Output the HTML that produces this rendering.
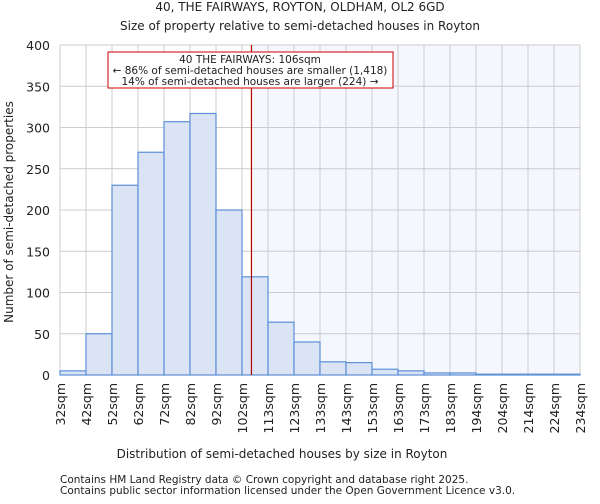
<!DOCTYPE html>
<html><head><meta charset="utf-8"><style>
body{margin:0;background:#fff;font-family:"DejaVu Sans","Liberation Sans",sans-serif;}
svg text{font-family:"DejaVu Sans","Liberation Sans",sans-serif;fill:#222;}
</style></head><body>
<svg id="c" width="600" height="500" xmlns="http://www.w3.org/2000/svg">
<text x="300" y="11" font-size="12" text-anchor="middle">40, THE FAIRWAYS, ROYTON, OLDHAM, OL2 6GD</text>
<text x="300" y="30" font-size="12" text-anchor="middle">Size of property relative to semi-detached houses in Royton</text>
<text x="282" y="458" font-size="12" text-anchor="middle">Distribution of semi-detached houses by size in Royton</text>
<text transform="translate(13,212) rotate(-90)" font-size="12" text-anchor="middle">Number of semi-detached properties</text>
<text x="60" y="483" font-size="10.5">Contains HM Land Registry data © Crown copyright and database right 2025.</text>
<text x="60" y="494" font-size="10.5">Contains public sector information licensed under the Open Government Licence v3.0.</text>
<g id="plot"></g>
</svg>
<script>
const xLabels=["32sqm","42sqm","52sqm","62sqm","72sqm","82sqm","92sqm","102sqm","113sqm","123sqm","133sqm","143sqm","153sqm","163sqm","173sqm","183sqm","194sqm","204sqm","214sqm","224sqm","234sqm"];
const counts=[5,50,230,270,307,317,200,119,64,40,16,15,7,5,2.5,2.5,1,1,1,1];
const yTicks=[0,50,100,150,200,250,300,350,400];
const markerValue=106;
const binEdges=[32,42,52,62,72,82,92,102,113,123,133,143,153,163,173,183,194,204,214,224,234];
const X0=60,X1=580,Y0=375,Y1=45,YMAX=400;
const NS="http://www.w3.org/2000/svg";
const g=document.getElementById('plot');
const bw=(X1-X0)/counts.length;
function xs(i){return X0+i*bw;}
function ys(v){return Y0-(v/YMAX)*(Y0-Y1);}
function xv(v){let i=0;while(i<binEdges.length-2&&v>binEdges[i+1])i++;return xs(i)+(v-binEdges[i])/(binEdges[i+1]-binEdges[i])*bw;}
function mk(t,a){const e=document.createElementNS(NS,t);for(const k in a)e.setAttribute(k,a[k]);g.appendChild(e);return e;}
let e;
e=mk('rect',{x:X0,y:Y1,width:X1-X0,height:Y0-Y1,fill:'#fff'});
const mx=xv(markerValue);
e=mk('rect',{x:mx,y:Y1,width:X1-mx,height:Y0-Y1,fill:'#f4f7fe'});


for(let i=0;i<=counts.length;i++){e=mk('line',{x1:xs(i),x2:xs(i),y1:Y1,y2:Y0,stroke:'#ccc'});

}
yTicks.forEach(t=>{e=mk('line',{x1:X0,x2:X1,y1:ys(t),y2:ys(t),stroke:'#ccc'});


const tx=mk('text',{x:X0-10,y:ys(t)+5,'font-size':12.5,'text-anchor':'end'});tx.textContent=t;

});
counts.forEach((v,i)=>{e=mk('rect',{x:xs(i),y:ys(v),width:bw,height:Y0-ys(v),fill:'#dae4f4',stroke:'#5b8fd6','stroke-width':1.2});

});
xLabels.forEach((l,i)=>{const tx=mk('text',{transform:`translate(${xs(i)+5},${Y0+8}) rotate(-90)`,'font-size':12.5,'text-anchor':'end'});tx.textContent=l;

});
e=mk('line',{x1:mx,x2:mx,y1:Y1,y2:Y0,stroke:'#b00','stroke-width':1.2});


e=mk('rect',{x:108,y:52,width:285,height:36,fill:'#fff',stroke:'#c00','stroke-width':1});


["40 THE FAIRWAYS: 106sqm","← 86% of semi-detached houses are smaller (1,418)","14% of semi-detached houses are larger (224) →"].forEach((s,i)=>{const tx=mk('text',{x:250,y:63+i*11,'font-size':10.5,'text-anchor':'middle'});tx.textContent=s;

});
</script>
</body></html>
